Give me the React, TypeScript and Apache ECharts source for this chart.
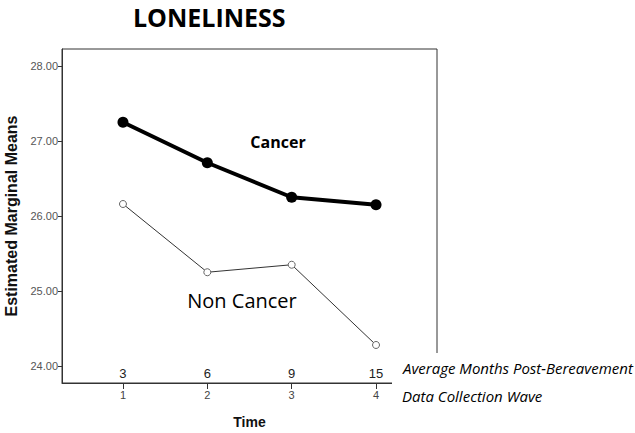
import React, { useEffect, useRef } from "react";
import * as echarts from "echarts";

const waves = [1, 2, 3, 4];
const monthsLabels = ["3", "6", "9", "15"];
const cancerValues = [27.25, 26.71, 26.25, 26.15];
const nonCancerValues = [26.16, 25.25, 25.35, 24.28];
const yTicks = [24, 25, 26, 27, 28];
const yTickLabels = ["24.00", "25.00", "26.00", "27.00", "28.00"];

export default function App() {
  const ref = useRef<HTMLDivElement>(null);
  useEffect(() => {
    if (!ref.current) return;
    const chart = echarts.init(ref.current, null, { renderer: "svg" });
    const axisFont = "Liberation Sans";
    chart.setOption({
      animation: false,
      backgroundColor: "#fff",
      grid: {
        left: 62,
        top: 49,
        width: 375,
        height: 334,
        outerBoundsMode: "none",
        containLabel: false,
        show: true,
        borderColor: "#333",
        borderWidth: 1,
        backgroundColor: "transparent",
      },
      xAxis: [
        {
          type: "value",
          min: 0.277,
          max: 4.723,
          splitLine: { show: false },
          axisLine: { show: true, lineStyle: { color: "#333", width: 1 } },
          axisTick: { show: true, length: 6, customValues: waves, lineStyle: { color: "#333" } },
          axisLabel: {
            customValues: waves,
            margin: 6,
            fontFamily: axisFont,
            fontSize: 11,
            color: "#444",
            formatter: (v: number) => String(v),
          },
          name: "Time",
          nameLocation: "middle",
          nameGap: 32,
          nameTextStyle: { fontFamily: axisFont, fontSize: 14, fontWeight: "bold", color: "#111" },
        },
        {
          type: "value",
          position: "bottom",
          min: 0.277,
          max: 4.723,
          splitLine: { show: false },
          axisLine: { show: false },
          axisTick: { show: false },
          axisLabel: {
            inside: true,
            customValues: waves,
            margin: 3,
            fontFamily: axisFont,
            fontSize: 13,
            color: "#222",
            formatter: (v: number) => monthsLabels[waves.indexOf(Math.round(v))] ?? "",
          },
        },
      ],
      yAxis: {
        type: "value",
        min: 23.773,
        max: 28.227,
        splitLine: { show: false },
        axisLine: { show: true, lineStyle: { color: "#333", width: 1 } },
        axisTick: { show: true, length: 4, customValues: yTicks, lineStyle: { color: "#333" } },
        axisLabel: {
          customValues: yTicks,
          margin: 4,
          fontFamily: axisFont,
          fontSize: 11,
          color: "#555",
          formatter: (v: number) => yTickLabels[yTicks.indexOf(Math.round(v))] ?? "",
        },
        name: "Estimated Marginal Means",
        nameLocation: "middle",
        nameGap: 43,
        nameTextStyle: { fontFamily: axisFont, fontSize: 16, fontWeight: "bold", color: "#111" },
      },
      series: [
        {
          name: "Cancer",
          type: "line",
          data: waves.map((w, i) => [w, cancerValues[i]]),
          symbol: "circle",
          symbolSize: 11,
          lineStyle: { color: "#000", width: 4 },
          itemStyle: { color: "#000" },
          z: 3,
        },
        {
          name: "Non Cancer",
          type: "line",
          data: waves.map((w, i) => [w, nonCancerValues[i]]),
          symbol: "circle",
          symbolSize: 7,
          lineStyle: { color: "#333", width: 1 },
          itemStyle: { color: "#fff", borderColor: "#666", borderWidth: 1 },
          z: 2,
        },
      ],
      graphic: [
        {
          type: "rect",
          z: 100,
          shape: { x: 392, y: 353, width: 60, height: 40 },
          style: { fill: "#fff" },
        },
        {
          type: "text",
          z: 101,
          x: 133,
          y: 17,
          style: {
            text: "LONELINESS",
            font: "bold 25px 'Open Sans'",
            fill: "#000",
            verticalAlign: "middle",
          },
        },
        {
          type: "text",
          z: 101,
          x: 278,
          y: 142,
          style: {
            text: "Cancer",
            font: "bold 16px 'Open Sans'",
            fill: "#000",
            align: "center",
            verticalAlign: "middle",
          },
        },
        {
          type: "text",
          z: 101,
          x: 242,
          y: 300,
          style: {
            text: "Non Cancer",
            font: "20px 'Open Sans'",
            fill: "#000",
            align: "center",
            verticalAlign: "middle",
          },
        },
        {
          type: "text",
          z: 101,
          x: 403,
          y: 368,
          style: {
            text: "Average Months Post-Bereavement",
            font: "italic 15px 'Open Sans'",
            fill: "#000",
            verticalAlign: "middle",
          },
        },
        {
          type: "text",
          z: 101,
          x: 402,
          y: 396,
          style: {
            text: "Data Collection Wave",
            font: "italic 15px 'Open Sans'",
            fill: "#000",
            verticalAlign: "middle",
          },
        },
      ],
    });
    return () => chart.dispose();
  }, []);
  return <div ref={ref} style={{ width: 635, height: 433, position: "absolute", left: 0, top: 0 }} />;
}
